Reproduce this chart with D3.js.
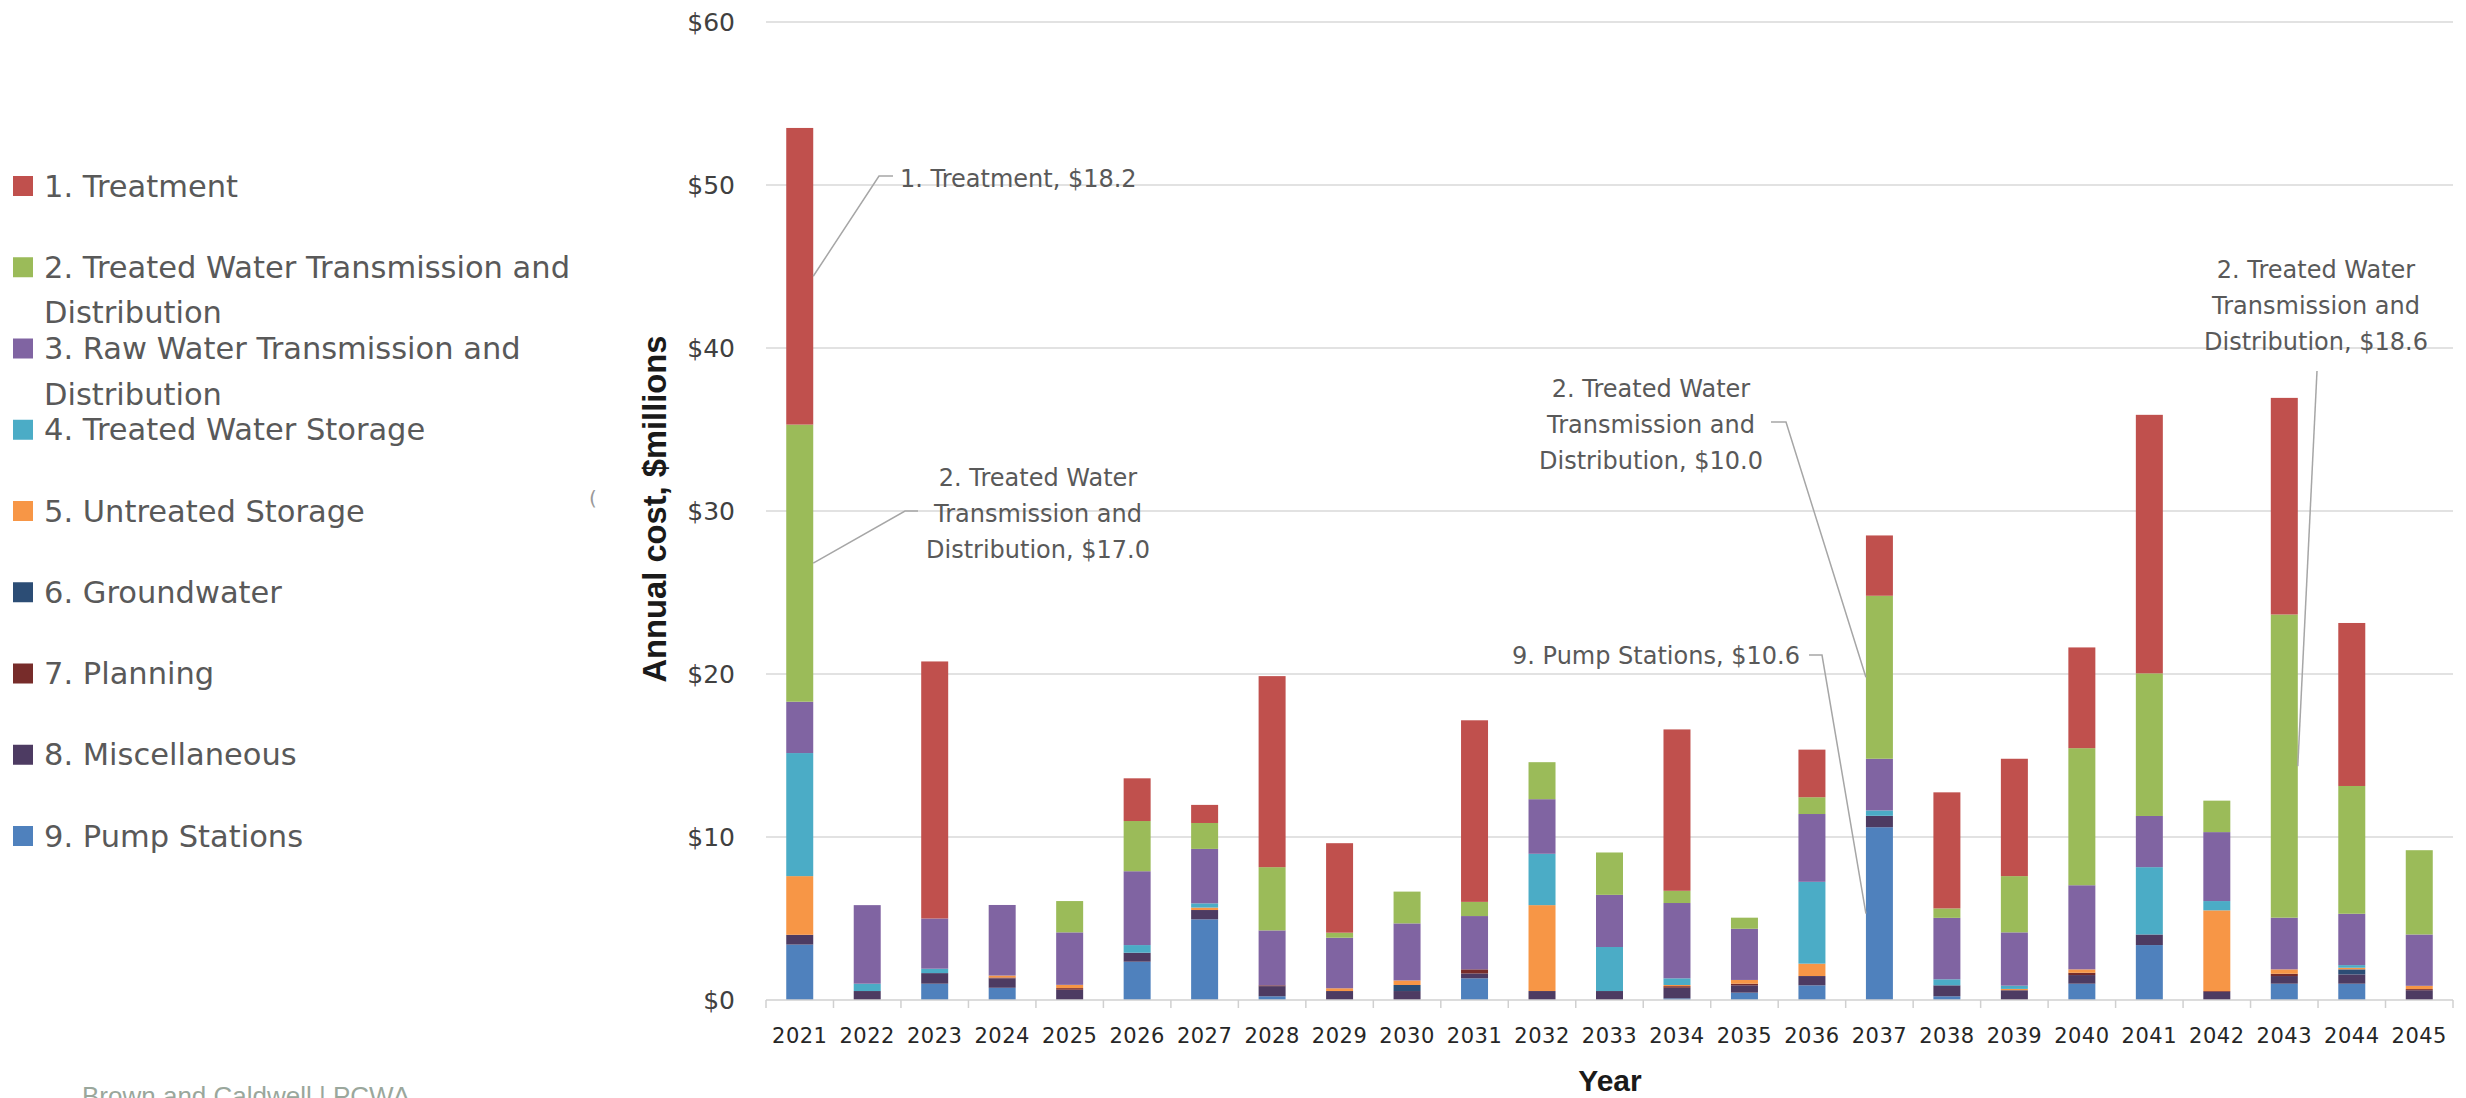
<!DOCTYPE html>
<html>
<head>
<meta charset="utf-8">
<script src="https://cdn.jsdelivr.net/npm/d3@7"></script>
<style>
body { margin:0; background:#fff; }
svg { display:block; }
</style>
</head>
<body>
<svg id="chart" width="2466" height="1098"></svg>
<script>
// annual cost by category, $ millions
var years = [2021,2022,2023,2024,2025,2026,2027,2028,2029,2030,2031,2032,2033,2034,2035,2036,2037,2038,2039,2040,2041,2042,2043,2044,2045];
var pumpStations   = [3.4,0,1.0,0.75,0,2.35,4.95,0.23,0,0,1.33,0,0,0.1,0.45,0.9,10.6,0.23,0,1.0,3.37,0,1.0,1.0,0];
var miscellaneous  = [0.6,0.55,0.65,0.58,0.63,0.55,0.57,0.62,0.55,0.55,0.3,0.55,0.55,0.65,0.45,0.57,0.7,0.67,0.6,0.53,0.65,0.5,0.47,0.57,0.6];
var planning       = [0,0,0,0.05,0.1,0,0,0.05,0,0,0.25,0,0,0.1,0.1,0,0,0,0,0.14,0,0.05,0.14,0,0.07];
var groundwater    = [0,0,0,0,0,0,0,0,0,0.37,0,0,0,0,0,0,0,0,0,0,0,0,0,0.31,0];
var untreatedStor  = [3.6,0,0,0.12,0.2,0,0.15,0,0.17,0.28,0,5.27,0,0.07,0.23,0.76,0,0,0.08,0.21,0,4.95,0.27,0.1,0.2];
var treatedStor    = [7.55,0.45,0.27,0,0,0.47,0.26,0,0,0,0,3.15,2.7,0.41,0,5.02,0.33,0.37,0.2,0,4.13,0.57,0,0.16,0];
var rawWaterTD     = [3.15,4.82,3.08,4.33,3.22,4.53,3.34,3.37,3.1,3.5,3.27,3.35,3.2,4.62,3.14,4.16,3.17,3.77,3.27,5.16,3.14,4.23,3.17,3.15,3.15];
var treatedWaterTD = [17.0,0,0,0,1.92,3.08,1.59,3.88,0.31,1.95,0.87,2.27,2.6,0.75,0.68,1.03,10.0,0.58,3.45,8.41,8.75,1.93,18.6,7.84,5.17];
var treatment      = [18.2,0,15.77,0,0,2.62,1.11,11.72,5.49,0,11.14,0,0,9.9,0,2.92,3.7,7.12,7.2,6.18,15.86,0,13.29,10.0,0];

// legend order (top of stack first)
var seriesNames = ["1. Treatment","2. Treated Water Transmission and Distribution","3. Raw Water Transmission and Distribution","4. Treated Water Storage","5. Untreated Storage","6. Groundwater","7. Planning","8. Miscellaneous","9. Pump Stations"];
var seriesKeys  = ["treat","twtd","raw","tws","untr","gw","plan","misc","pump"];
var seriesColors = ["#c0504d","#9bbb59","#8064a2","#4bacc6","#f79646","#2c4d75","#772c2a","#4d3b62","#4f81bd"];
var yTicks = [0,10,20,30,40,50,60];

var seriesData = {treat:treatment, twtd:treatedWaterTD, raw:rawWaterTD, tws:treatedStor, untr:untreatedStor, gw:groundwater, plan:planning, misc:miscellaneous, pump:pumpStations};

var rows = years.map(function(yr, i) {
	var r = {year: yr};
	seriesKeys.forEach(function(k) { r[k] = seriesData[k][i]; });
	return r;
});

var stackKeys = seriesKeys.slice().reverse();   // pump stations at the bottom
var stacked = d3.stack().keys(stackKeys)(rows);

var svg = d3.select("#chart");
var x = d3.scaleBand().domain(years).range([766, 2453]).paddingInner(0.6).paddingOuter(0.3);
var y = d3.scaleLinear().domain([0, 60]).range([1000, 22]);
var colorOf = d3.scaleOrdinal().domain(seriesKeys).range(seriesColors);

// gridlines
svg.append("g").selectAll("line")
	.data(yTicks.filter(function(d) { return d > 0; }))
	.enter().append("line")
	.attr("x1", 766).attr("x2", 2453)
	.attr("y1", function(d) { return y(d); })
	.attr("y2", function(d) { return y(d); })
	.attr("stroke", "#d9d9d9").attr("stroke-width", 1.5);

// y axis labels
var yAxis = svg.append("g").attr("transform", "translate(766,0)")
	.call(d3.axisLeft(y).tickValues(yTicks).tickFormat(function(d) { return "$" + d; }).tickSize(0).tickPadding(31));
yAxis.select(".domain").remove();
yAxis.selectAll("text")
	.attr("font-family", "DejaVu Sans, Verdana, sans-serif")
	.attr("font-size", 25)
	.attr("fill", "#404040");

// bars
svg.append("g").selectAll("g")
	.data(stacked)
	.enter().append("g")
	.attr("fill", function(s) { return colorOf(s.key); })
	.selectAll("rect")
	.data(function(s) { return s; })
	.enter().append("rect")
	.attr("x", function(d) { return x(d.data.year); })
	.attr("y", function(d) { return y(d[1]); })
	.attr("width", x.bandwidth())
	.attr("height", function(d) { return y(d[0]) - y(d[1]); });

// x axis
svg.append("line")
	.attr("x1", 766).attr("x2", 2453).attr("y1", y(0)).attr("y2", y(0))
	.attr("stroke", "#d0d0d0").attr("stroke-width", 1.5);
var halfGap = (x.step() - x.bandwidth()) / 2;
var bounds = years.map(function(d) { return x(d) - halfGap; });
bounds.push(bounds[bounds.length-1] + x.step());
svg.append("g").selectAll("line")
	.data(bounds)
	.enter().append("line")
	.attr("x1", function(d) { return d; }).attr("x2", function(d) { return d; })
	.attr("y1", y(0)).attr("y2", y(0) + 8)
	.attr("stroke", "#d0d0d0").attr("stroke-width", 1.5);

var xAxis = svg.append("g").attr("transform", "translate(0," + y(0) + ")")
	.call(d3.axisBottom(x).tickSize(0).tickPadding(28));
xAxis.select(".domain").remove();
xAxis.selectAll("text")
	.attr("font-family", "DejaVu Sans, Verdana, sans-serif")
	.attr("font-size", 21)
	.attr("letter-spacing", 0.5)
	.attr("fill", "#262626");

// axis titles
svg.append("text")
	.attr("x", 1610).attr("y", 1091)
	.attr("text-anchor", "middle")
	.attr("font-family", "Liberation Sans, Arial, sans-serif")
	.attr("font-weight", "bold").attr("font-size", 30)
	.attr("fill", "#1a1a1a")
	.text("Year");

svg.append("text")
	.attr("transform", "translate(666,509) rotate(-90)")
	.attr("text-anchor", "middle")
	.attr("font-family", "Liberation Sans Narrow, Liberation Sans, Arial, sans-serif")
	.attr("font-weight", "bold").attr("font-size", 33)
	.attr("textLength", 347).attr("lengthAdjust", "spacingAndGlyphs")
	.attr("fill", "#1a1a1a")
	.text("Annual cost, $millions");

// data label callouts (layout positions picked to match the original)
var callouts = [
	{key:"treat", year:2021, side:"right", lines:["1. Treatment"], tx:900, ty:179, anchor:"start", pts:[[879,176],[893,176]]},
	{key:"twtd", year:2021, side:"right", lines:["2. Treated Water","Transmission and","Distribution"], tx:1038, ty:478, anchor:"middle", pts:[[905,511],[918,511]]},
	{key:"twtd", year:2037, side:"left", lines:["2. Treated Water","Transmission and","Distribution"], tx:1651, ty:389, anchor:"middle", pts:[[1786,422],[1771,422]]},
	{key:"pump", year:2037, side:"left", lines:["9. Pump Stations"], tx:1656, ty:656, anchor:"middle", pts:[[1822,655],[1809,655]]},
	{key:"twtd", year:2043, side:"right", lines:["2. Treated Water","Transmission and","Distribution"], tx:2316, ty:270, anchor:"middle", pts:[[2317,371]]}
];

var labelG = svg.append("g");
callouts.forEach(function(c) {
	var idx = years.indexOf(c.year);
	var seg = stacked[stackKeys.indexOf(c.key)][idx];
	var px = c.side == "right" ? x(c.year) + x.bandwidth() : x(c.year);
	var py = y((seg[0] + seg[1]) / 2);
	var pts = [[px, py]].concat(c.pts);
	labelG.append("path")
		.attr("d", d3.line()(pts))
		.attr("fill", "none")
		.attr("stroke", "#a6a6a6").attr("stroke-width", 1.5);

	var val = seriesData[c.key][idx];
	var lines = c.lines.slice();
	lines[lines.length-1] = lines[lines.length-1] + ", $" + val.toFixed(1);
	var t = labelG.append("text")
		.attr("font-family", "DejaVu Sans, Verdana, sans-serif")
		.attr("font-size", 24)
		.attr("fill", "#595959")
		.attr("text-anchor", c.anchor);
	lines.forEach(function(l, j) {
		t.append("tspan")
			.attr("x", c.tx).attr("y", c.ty + j*36)
			.attr("dominant-baseline", "central")
			.text(l);
	});
});

// legend
var legendWrap = [["1. Treatment"],["2. Treated Water Transmission and","Distribution"],["3. Raw Water Transmission and","Distribution"],["4. Treated Water Storage"],["5. Untreated Storage"],["6. Groundwater"],["7. Planning"],["8. Miscellaneous"],["9. Pump Stations"]];
var legend = svg.append("g").selectAll("g")
	.data(seriesNames)
	.enter().append("g")
	.attr("transform", function(d, i) { return "translate(0," + (186 + i*81.25) + ")"; });
legend.append("rect")
	.attr("x", 13).attr("y", -10).attr("width", 20).attr("height", 20)
	.attr("fill", function(d, i) { return seriesColors[i]; });
legend.append("text")
	.attr("font-family", "DejaVu Sans, Verdana, sans-serif")
	.attr("font-size", 30.5)
	.attr("fill", "#595959")
	.each(function(d, i) {
		var t = d3.select(this);
		legendWrap[i].forEach(function(l, j) {
			t.append("tspan").attr("x", 44).attr("y", j*45.5)
				.attr("dominant-baseline", "central").text(l);
		});
	});

// stray mark and footer from the source slide (footer is cut by the page edge there too)
svg.append("text")
	.attr("x", 589).attr("y", 505)
	.attr("font-family", "DejaVu Sans, sans-serif").attr("font-size", 20)
	.attr("fill", "#9a9a9a")
	.text("(");
svg.append("text")
	.attr("x", 82).attr("y", 1105)
	.attr("font-family", "Liberation Sans, Arial, sans-serif").attr("font-size", 26)
	.attr("fill", "#9aa79c")
	.text("Brown and Caldwell | PCWA");
</script>
</body>
</html>
